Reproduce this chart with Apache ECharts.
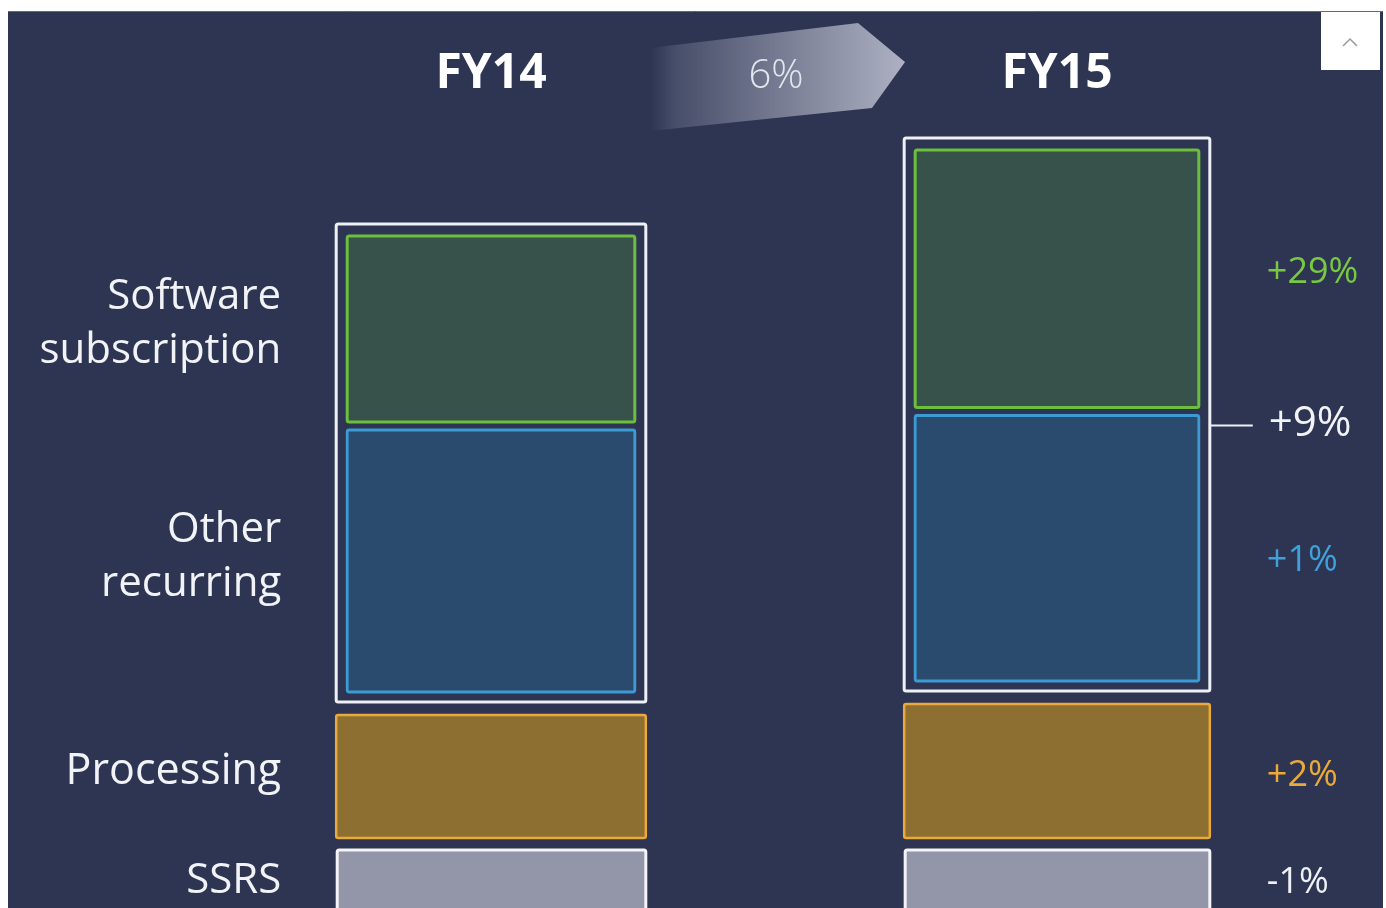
<!DOCTYPE html>
<html>
<head>
<meta charset="utf-8">
<script src="https://cdn.jsdelivr.net/npm/echarts@6/dist/echarts.min.js"></script>
<style>
  html, body { margin: 0; padding: 0; background: #ffffff; overflow: hidden; width: 1386px; height: 908px; }
  #chart { position: absolute; left: 8px; top: 11px; width: 1375px; height: 920px; background: #2d3553; }
</style>
</head>
<body>
<div id="chart"></div>
<script>
// ---- data (arbitrary height units) ----
const categories = ['FY14', 'FY15'];
const segmentNames = ['SSRS', 'Processing', 'Other recurring', 'Software subscription'];
const leftLabels = ['SSRS', 'Processing', 'Other\nrecurring', 'Software\nsubscription'];
const ssrs = [70, 70];
const processing = [135.5, 146.5];
const otherRecurring = [282.5, 286];
const softwareSubscription = [209, 280.5];
const segmentGrowth = ['-1%', '+2%', '+1%', '+29%'];
const recurringGrowth = '+9%';
const totalGrowth = '6%';

// ---- styles ----
const FONT = '"Open Sans", "Noto Sans", sans-serif';
const fills = ['#9396a8', '#8d7031', '#2a4a6e', '#37524a'];
const strokes = ['#f4f4f8', '#eaa93a', '#3c9bd4', '#6cbf3c'];
const growthColors = ['#eef0f5', '#eaa93a', '#3fa0da', '#78c843'];
const leftShift = [-6, -5, -4, -5];
const rightShift = [-5, 5, 12, -6];

const chart = echarts.init(document.getElementById('chart'), null, { renderer: 'canvas' });

function renderItem(params, api) {
  const i = api.value(0);
  const s = api.value(1), p = api.value(2), o = api.value(3), w = api.value(4);
  const cx = api.coord([i, 0])[0];
  const band = api.size([1, 0])[0];
  const bw = band * (i === 0 ? 0.547 : 0.54);
  const x0 = cx - bw / 2;
  const y = v => api.coord([i, v])[1];
  const b0 = s, b1 = s + p, b2 = b1 + o, b3 = b2 + w;
  const children = [];

  // SSRS
  const ssTop = y(b0) + 6, ssBot = y(0);
  children.push({ type: 'rect', shape: { x: x0 + 1, y: ssTop, width: bw - 1, height: ssBot - ssTop, r: 2 },
    style: { fill: fills[0], stroke: strokes[0], lineWidth: 3 } });
  // Processing
  const prTop = y(b1) + 6.5, prBot = y(b0) - 6;
  children.push({ type: 'rect', shape: { x: x0, y: prTop, width: bw, height: prBot - prTop, r: 2 },
    style: { fill: fills[1], stroke: strokes[1], lineWidth: 2.5 } });
  // Recurring group box
  const boxTop = y(b3) + 7, boxBot = y(b1) - 6.5;
  children.push({ type: 'rect', shape: { x: x0, y: boxTop, width: bw, height: boxBot - boxTop, r: 2 },
    style: { fill: null, stroke: '#eef0f5', lineWidth: 3 } });
  const ix = x0 + 11, iw = bw - 22;
  // Other recurring
  const blTop = y(b2) + 4, blBot = boxBot - 10;
  children.push({ type: 'rect', shape: { x: ix, y: blTop, width: iw, height: blBot - blTop, r: 2 },
    style: { fill: fills[2], stroke: strokes[2], lineWidth: 2.8 } });
  // Software subscription
  const grTop = boxTop + 12, grBot = y(b2) - 4;
  children.push({ type: 'rect', shape: { x: ix, y: grTop, width: iw, height: grBot - grTop, r: 2 },
    style: { fill: fills[3], stroke: strokes[3], lineWidth: 3 } });

  const centers = [(ssTop + 908) / 2 + 3, (prTop + prBot) / 2, (blTop + blBot) / 2, (grTop + grBot) / 2];

  if (i === 0) {
    const sizes = [42, 43, 42, 42];
    for (let k = 0; k < 4; k++) {
      children.push({ type: 'text', style: {
        text: leftLabels[k], x: x0 - 55, y: centers[k] + leftShift[k],
        align: 'right', verticalAlign: 'middle', fill: '#f2f3f7',
        font: '400 ' + sizes[k] + 'px ' + FONT, lineHeight: 54 } });
    }
  } else {
    const rx = x0 + bw + 57;
    for (let k = 0; k < 4; k++) {
      children.push({ type: 'text', style: {
        text: segmentGrowth[k], x: rx, y: centers[k] + rightShift[k],
        align: 'left', verticalAlign: 'middle', fill: growthColors[k],
        font: '400 36px ' + FONT } });
    }
    const by = (boxTop + boxBot) / 2 + 11;
    children.push({ type: 'line', shape: { x1: x0 + bw + 1, y1: by, x2: x0 + bw + 43, y2: by },
      style: { stroke: '#eef0f5', lineWidth: 2 } });
    children.push({ type: 'text', style: {
      text: recurringGrowth, x: x0 + bw + 59, y: by - 1,
      align: 'left', verticalAlign: 'middle', fill: '#f2f3f7',
      font: '400 42px ' + FONT } });
  }
  return { type: 'group', children: children };
}

const seriesData = categories.map((c, i) => [i, ssrs[i], processing[i], otherRecurring[i], softwareSubscription[i]]);

const option = {
  backgroundColor: 'transparent',
  animation: false,
  grid: { left: 200, right: 43, top: 109, bottom: 17 },
  xAxis: {
    type: 'category', data: categories, position: 'top',
    axisLine: { show: false }, axisTick: { show: false }, splitLine: { show: false },
    axisLabel: { color: '#ffffff', fontFamily: FONT, fontWeight: 'bold', fontSize: 48,
      margin: 46, verticalAlign: 'middle', lineHeight: 50 }
  },
  yAxis: { type: 'value', min: 0, max: 794, show: false, splitLine: { show: false } },
  series: [{
    type: 'custom', name: segmentNames.join(' / '), renderItem: renderItem,
    encode: { x: 0, y: 1 }, data: seriesData, clip: false
  }],
  graphic: [
    { type: 'line', z: 0, shape: { x1: 0, y1: 0.5, x2: 1375, y2: 0.5 }, style: { stroke: '#5d6b7e', lineWidth: 1 } },
    { type: 'polygon', z: 1,
      shape: { points: [[642, 37], [850, 12], [897, 51], [864, 97], [642, 120]] },
      style: { fill: new echarts.graphic.LinearGradient(0, 0, 1, 0, [
        { offset: 0, color: 'rgba(178,181,198,0)' },
        { offset: 0.1, color: 'rgba(178,181,198,0.2)' },
        { offset: 0.5, color: 'rgba(178,181,198,0.55)' },
        { offset: 1, color: 'rgba(178,181,198,0.97)' }
      ]) } },
    { type: 'text', z: 2, style: { text: totalGrowth, x: 768, y: 66, align: 'center', verticalAlign: 'middle',
      fill: '#e4e6ee', font: '300 40px ' + FONT } },
    { type: 'rect', z: 50, shape: { x: 1313, y: 1, width: 59, height: 58 }, style: { fill: '#ffffff' } },
    { type: 'polyline', z: 51, shape: { points: [[1335, 35], [1342, 28], [1349, 35]] },
      style: { stroke: '#9a9a9a', lineWidth: 1.5, fill: null } }
  ]
};
chart.setOption(option);
</script>
</body>
</html>
